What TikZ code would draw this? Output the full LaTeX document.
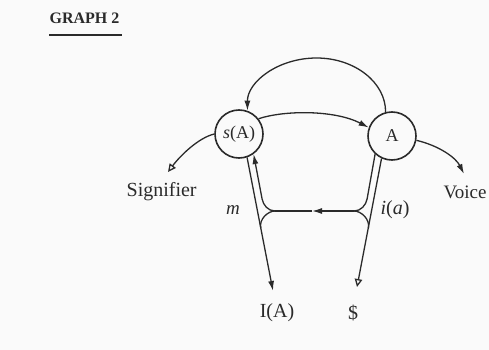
\documentclass[tikz,border=0pt]{standalone}
\usepackage{fontspec}
\setmainfont{Liberation Serif}
\usetikzlibrary{arrows.meta}
\definecolor{ink}{HTML}{2A2A2A}
\definecolor{paper}{HTML}{FAFAFA}
\begin{document}
\begin{tikzpicture}[x=1pt,y=-1pt,color=ink,line width=1.3pt,
  >={Latex[length=10pt,width=6pt]},
  circ/.style={circle,draw,line width=1.6pt,minimum size=48pt,inner sep=0pt,font=\fontsize{18}{18}\selectfont},
  lbl/.style={inner sep=0pt,font=\fontsize{20}{20}\selectfont},
  opentail/.style={{Triangle[open,length=8pt,width=7.5pt]}-}]
\fill[paper] (0,0) rectangle (489,350);
\useasboundingbox (0,0) rectangle (489,350);
% title
\node[inner sep=0pt,anchor=west,font=\bfseries\fontsize{16}{16}\selectfont] (title) at (49,18) {GRAPH 2};
\draw[line width=1.4pt] ([yshift=-11pt]title.south west) -- ([yshift=-11pt,xshift=2pt]title.south east);
% circles
\node[circ] (sA) at (239,134) {\textit{s}(A)};
\node[circ] (A) at (392,136) {A};
% labels
\node[lbl,anchor=west] (sig) at (126,192) {Signifier};
\node[lbl,anchor=west,font=\fontsize{19}{19}\selectfont] (voice) at (443,192) {Voice};
\node[lbl,font=\fontsize{19}{19}\selectfont\itshape] (m) at (233,210) {m};
\node[lbl] (ia) at (395,210) {\textit{i}(\textit{a})};
\node[lbl] (IA) at (277,313) {I(A)};
\node[lbl] (S) at (353,313) {\$};
% coordinates
\coordinate (sigT) at (168,172);
\coordinate (voiceT) at (464,174);
\coordinate (IAt) at (273,291);
\coordinate (dolT) at (357,287);
\coordinate (hL) at (275,211);
\coordinate (hM) at (312,211);
\coordinate (hR) at (354,211);
\coordinate (lUp) at (262.1,199);
\coordinate (lDn) at (260.7,228);
\coordinate (rUp) at (367.1,199);
\coordinate (rDn) at (368.4,228);
% signifier vector
\draw[opentail] (sigT) .. controls (180,156) and (198,138) .. (sA.west);
\draw[->] (sA.38) .. controls (285,110) and (335,110) .. (A.160);
\draw[->] (A.-10) .. controls (440,146) and (456,158) .. (voiceT);
% top arc
\draw[->] (A.105) .. controls (385.8,82.5) and (354.8,58) .. (316.5,58)
  .. controls (278.2,58) and (247.2,81.9) .. (sA.70);
% lower structure
\draw[->] (sA.-71) -- (IAt);
\draw[opentail] (dolT) -- (A.-115);
\draw (rUp) -- (A.-133);
\draw[->] (lUp) -- (sA.-54);
\draw[->] (hR) -- (hM);
\draw (hM) -- (hL);
\draw (hL) .. controls (268,211) and (263.2,205) .. (lUp);
\draw (hL) .. controls (268,211) and (259,219) .. (lDn);
\draw (hR) .. controls (361,211) and (366,205) .. (rUp);
\draw (hR) .. controls (361,211) and (370.1,219) .. (rDn);
\end{tikzpicture}
\end{document}
